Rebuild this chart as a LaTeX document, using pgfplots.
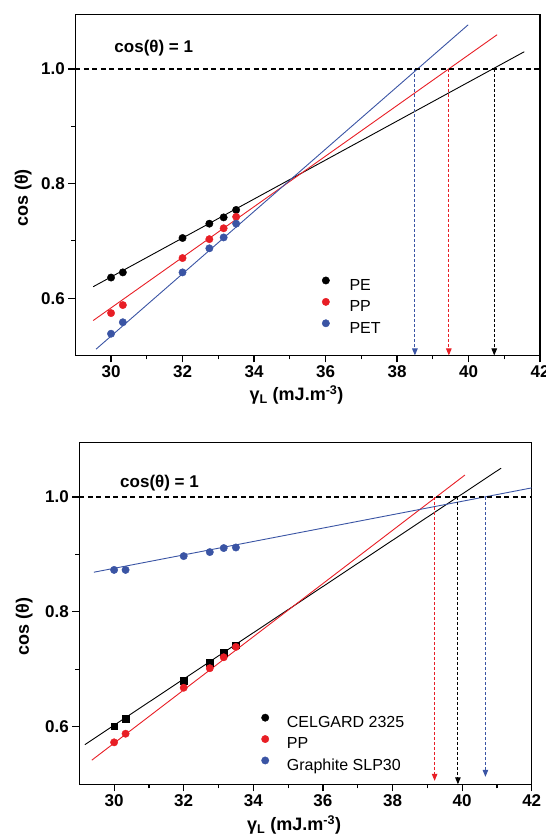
\documentclass[border=0pt]{standalone}
\usepackage{fontspec}
\setmainfont{Liberation Sans}
\usepackage{pgfplots}
\pgfplotsset{compat=1.18}
\usetikzlibrary{arrows.meta}
\definecolor{cred}{RGB}{232,30,37}
\definecolor{cblue}{RGB}{58,84,164}

\pgfplotsset{
 myaxis/.style={
  scale only axis, anchor=south west,
  xmin=29, xmax=42, ymin=0.5, ymax=1.095,
  xtick={30,32,34,36,38,40,42}, xticklabels={30,32,34,36,38,40,42},
  ytick={0.6,0.8,1.0}, yticklabels={0.6,0.8,1.0},
  minor x tick num=1, minor y tick num=1,
  tick align=outside, xtick pos=bottom, ytick pos=left,
  major tick length=7pt, minor tick length=4pt,
  every tick/.style={black, line width=1.2pt},
  axis line style={line width=1.5pt},
  ticklabel style={font=\bfseries\fontsize{17}{20}\selectfont},
  /pgf/number format/assume math mode=true,
  label style={font=\bfseries\fontsize{18}{21}\selectfont},
  xlabel={γ\textsubscript{L} (mJ.m\textsuperscript{-3})},
  ylabel={cos (θ)},
  legend cell align=left,
  legend image code/.code={\draw[##1] plot coordinates {(0pt,5.8pt)};},
  fitline/.style={line width=0.9pt, forget plot},
  hline/.style={black, line width=1.3pt, dash pattern=on 5pt off 3.5pt, forget plot},
  arr/.style={line width=1pt, dash pattern=on 3pt off 2pt, -{Triangle[length=7pt,width=5.5pt]}, forget plot},
  pts/.style={only marks, mark=*, mark size=3.7pt},
 },
}

\begin{document}
\begin{tikzpicture}
\path[use as bounding box] (0,0) rectangle (546pt,838pt);

% ---------------- top panel ----------------
\begin{axis}[myaxis, width=464.7pt, height=341pt, at={(75.3pt,482.5pt)},
  xlabel style={at={(axis description cs:0.476,-0.116)}, anchor=center},
  ylabel style={at={(axis description cs:-0.112,0.462)}, anchor=center},
  legend style={at={(axis cs:35.90,0.6377)}, anchor=north west, draw=none, fill=none,
    inner sep=0pt, row sep=3.4pt, column sep=19pt, font=\fontsize{16}{19}\selectfont,
    nodes={inner sep=1pt, text height=11.5pt, text depth=3.5pt}}]
\addplot[black, fitline] coordinates {(29.5,0.620) (41.56,1.030)};
\addplot[cred, fitline] coordinates {(29.5,0.561) (40.80,1.0597)};
\addplot[cblue, fitline] coordinates {(29.58,0.511) (39.99,1.077)};
\addplot[hline] coordinates {(29,1.0) (42,1.0)};
\addplot[cblue, arr] coordinates {(38.50,1.0) (38.50,0.5)};
\addplot[cred, arr] coordinates {(39.45,1.0) (39.45,0.5)};
\addplot[black, arr] coordinates {(40.72,1.0) (40.72,0.5)};
\addplot[pts, black] coordinates {(30,0.636) (30.33,0.645) (32,0.705) (32.75,0.730) (33.15,0.741) (33.5,0.754)};
\addlegendentry{PE}
\addplot[pts, cred] coordinates {(30,0.574) (30.33,0.588) (32,0.670) (32.75,0.703) (33.15,0.722) (33.5,0.742)};
\addlegendentry{PP}
\addplot[pts, cblue] coordinates {(30,0.538) (30.33,0.558) (32,0.645) (32.75,0.687) (33.15,0.706) (33.5,0.730)};
\addlegendentry{PET}
\node[anchor=west, inner sep=0pt, font=\bfseries\fontsize{17}{20}\selectfont] at (axis cs:30.09,1.0365) {cos(θ) = 1};
\end{axis}

% ---------------- bottom panel ----------------
\begin{axis}[myaxis, width=452.4pt, height=342pt, at={(79.3pt,53.7pt)},
  xlabel style={at={(axis description cs:0.475,-0.119)}, anchor=center},
  ylabel style={at={(axis description cs:-0.122,0.461)}, anchor=center},
  legend style={at={(axis cs:34.23,0.6227)}, anchor=north west, draw=none, fill=none,
    inner sep=0pt, row sep=3.4pt, column sep=17pt, font=\fontsize{16}{19}\selectfont,
    nodes={inner sep=1pt, text height=11.5pt, text depth=3.5pt}}]
\addplot[black, fitline] coordinates {(29.16,0.569) (41.12,1.050)};
\addplot[cred, fitline] coordinates {(29.36,0.542) (40.08,1.038)};
\addplot[cblue, fitline] coordinates {(29.42,0.869) (42,1.0157)};
\addplot[hline] coordinates {(29,1.0) (42,1.0)};
\addplot[cred, arr] coordinates {(39.21,1.0) (39.21,0.506)};
\addplot[black, arr] coordinates {(39.88,1.0) (39.88,0.5)};
\addplot[cblue, arr] coordinates {(40.67,1.0) (40.67,0.513)};
\addplot[only marks, mark=square*, mark size=3.4pt, black, legend image post style={mark=*, mark size=3.7pt}] coordinates {(30,0.601) (30.33,0.614) (32,0.680) (32.75,0.711) (33.15,0.729) (33.5,0.742)};
\addlegendentry{CELGARD 2325}
\addplot[pts, cred] coordinates {(30,0.573) (30.33,0.588) (32,0.668) (32.75,0.702) (33.15,0.721) (33.5,0.739)};
\addlegendentry{PP}
\addplot[pts, cblue] coordinates {(30,0.873) (30.33,0.873) (32,0.897) (32.75,0.904) (33.15,0.911) (33.5,0.912)};
\addlegendentry{Graphite SLP30}
\node[anchor=west, inner sep=0pt, font=\bfseries\fontsize{17}{20}\selectfont] at (axis cs:30.17,1.024) {cos(θ) = 1};
\end{axis}
\end{tikzpicture}
\end{document}
